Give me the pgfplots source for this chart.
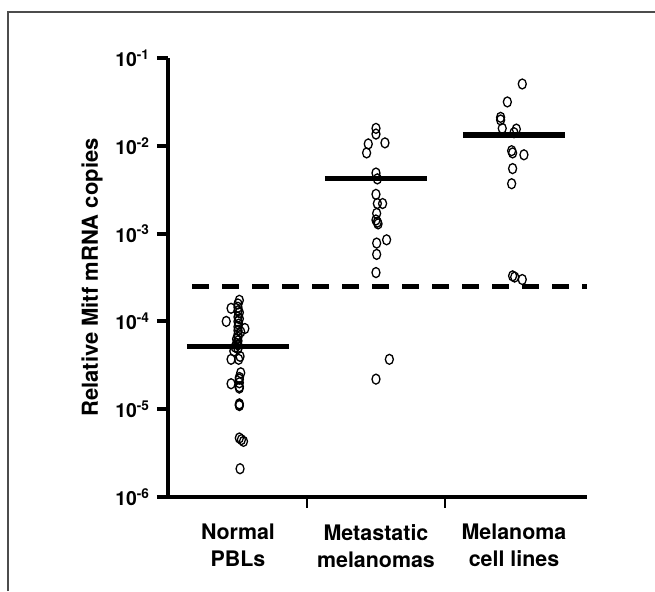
\documentclass[border=0pt]{standalone}
\usepackage{fontspec}
\setmainfont{TeX Gyre Heros}
\usepackage{pgfplots}
\pgfplotsset{compat=1.18}

\begin{document}
\begin{tikzpicture}
\begin{axis}[
    at={(84pt,47pt)}, anchor=south west,
    scale only axis, width=209.5pt, height=219.5pt,
    ymode=log, ymin=1e-6, ymax=1e-1,
    xmin=-0.507, xmax=2.529,
    axis x line=bottom, axis y line=left,
    axis line style={-, line width=2pt},
    tick align=outside, major tick length=5.5pt,
    ytick style={line width=2pt, black},
    xtick style={line width=1pt, black},
    ytick={1e-6,1e-5,1e-4,1e-3,1e-2,1e-1},
    yticklabels={10\textsuperscript{-6},10\textsuperscript{-5},10\textsuperscript{-4},
                 10\textsuperscript{-3},10\textsuperscript{-2},10\textsuperscript{-1}},
    yminorticks=false,
    xtick={0.5,1.5}, xticklabels={,},
    extra x ticks={0,1,2},
    extra x tick labels={Normal\\PBLs, Metastatic\\melanomas, Melanoma\\cell lines},
    extra x tick style={major tick length=0pt,
        xticklabel style={align=center, yshift=-10pt,
            font=\fontsize{10.7}{13.5}\selectfont\bfseries}},
    tick label style={font=\fontsize{9.7}{11}\selectfont\bfseries},
    ylabel={Relative Mitf mRNA copies},
    ylabel style={font=\fontsize{11}{12}\selectfont\bfseries,
        at={(axis description cs:-0.181,0.5)}, anchor=center},
    clip=false,
]
% Normal PBLs
\addplot[only marks, mark=o, mark size=2.5pt, mark options={xscale=0.8, line width=0.65pt}]
coordinates {
    (0.01,1.74e-4) (0.0,1.58e-4) (-0.05,1.41e-4) (0.0,1.45e-4) (0.0,1.32e-4)
    (0.01,1.26e-4) (0.0,1.12e-4) (0.01,1.07e-4) (-0.085,1.0e-4) (0.0,1.0e-4)
    (0.005,9.3e-5) (0.0,8.7e-5) (0.05,8.3e-5) (0.0,7.9e-5) (0.02,7.6e-5)
    (0.0,7.1e-5) (0.0,6.6e-5) (-0.01,6.3e-5) (0.0,6.0e-5) (-0.01,5.6e-5)
    (0.0,5.4e-5) (-0.02,5.1e-5) (0.0,4.9e-5) (-0.03,4.6e-5) (0.015,4.0e-5)
    (-0.05,3.7e-5) (0.005,3.7e-5) (0.02,2.6e-5) (0.01,2.3e-5) (0.01,2.2e-5)
    (0.01,2.0e-5) (-0.05,1.95e-5) (0.01,1.8e-5) (0.01,1.74e-5) (0.01,1.15e-5)
    (0.01,1.12e-5) (0.01,1.10e-5) (0.01,4.7e-6) (0.025,4.5e-6) (0.04,4.3e-6)
    (0.015,2.1e-6)
};
% Metastatic melanomas
\addplot[only marks, mark=o, mark size=2.5pt, mark options={xscale=0.8, line width=0.65pt}]
coordinates {
    (1.0,1.58e-2) (1.0,1.36e-2) (1.065,1.08e-2) (0.944,1.05e-2) (0.932,8.3e-3)
    (1.0,4.9e-3) (1.01,4.2e-3) (1.0,2.8e-3) (1.01,2.2e-3) (1.048,2.2e-3)
    (1.005,1.7e-3) (1.0,1.43e-3) (1.01,1.35e-3) (1.015,1.29e-3) (1.077,8.5e-4)
    (1.005,7.8e-4) (1.005,5.8e-4) (1.0,3.6e-4) (1.097,3.7e-5) (1.0,2.2e-5)
};
% Melanoma cell lines
\addplot[only marks, mark=o, mark size=2.5pt, mark options={xscale=0.8, line width=0.65pt}]
coordinates {
    (2.06,5.06e-2) (1.952,3.16e-2) (1.903,2.11e-2) (1.903,1.97e-2) (1.915,1.58e-2)
    (2.017,1.55e-2) (2.0,1.41e-2) (1.983,8.8e-3) (1.99,8.3e-3) (2.072,7.9e-3)
    (1.99,5.5e-3) (1.983,3.7e-3) (1.99,3.3e-4) (2.005,3.2e-4) (2.06,3.0e-4)
};
% medians
\addplot[line width=2.6pt, no marks] coordinates {(-0.37,5.2e-5) (0.37,5.2e-5)};
\addplot[line width=2.6pt, no marks] coordinates {(0.63,4.2e-3) (1.37,4.2e-3)};
\addplot[line width=2.6pt, no marks] coordinates {(1.63,1.33e-2) (2.37,1.33e-2)};
% cutoff
\addplot[line width=2.3pt, no marks, dash pattern=on 8.5pt off 6.5pt]
    coordinates {(-0.33,2.5e-4) (2.529,2.5e-4)};
\end{axis}
\draw[gray!60!black, line width=0.6pt] (4pt,0pt) -- (4pt,289.5pt) -- (327.5pt,289.5pt);
\pgfresetboundingbox
\useasboundingbox (0,0) rectangle (327.5pt,295.5pt);
\end{tikzpicture}
\end{document}
